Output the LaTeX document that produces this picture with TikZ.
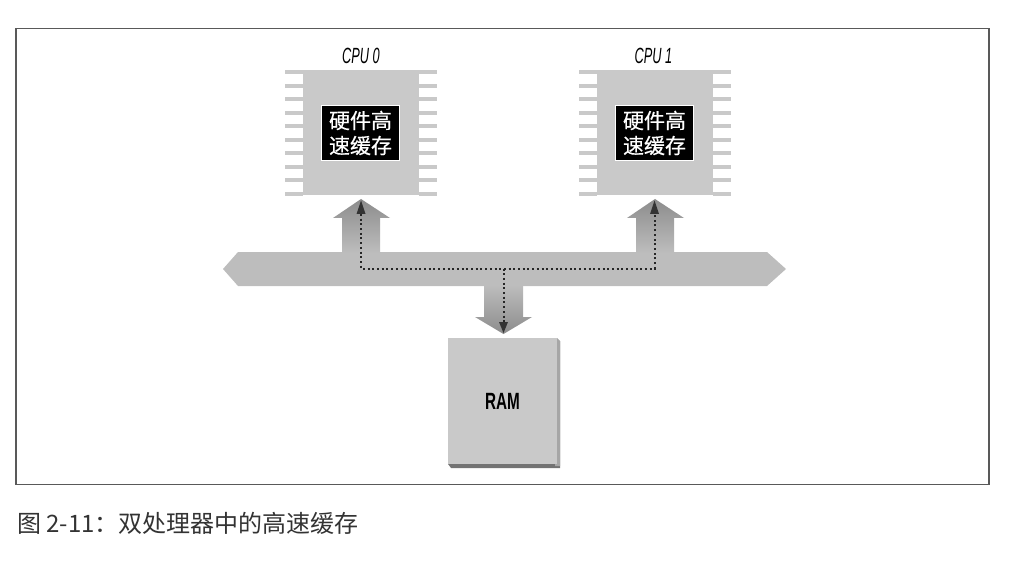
\documentclass[tikz,border=0pt]{standalone}
\usepackage{fontspec}
\setmainfont{Liberation Sans}
\newfontfamily\cjk{Noto Sans CJK SC}
\newfontfamily\cjkheavy[FakeBold=0.4]{Noto Sans CJK SC}
\definecolor{chip}{gray}{0.79}
\definecolor{busgray}{gray}{0.74}
\definecolor{armdark}{gray}{0.55}
\definecolor{frameline}{gray}{0.35}
\tikzset{
  chipbody/.style={fill=chip,draw=none,minimum width=116pt,minimum height=125pt,inner sep=0pt,outer sep=0pt},
  cachebox/.style={fill=black,draw=white,line width=1.6pt,minimum width=78pt,minimum height=55pt,inner sep=0pt,text=white,align=center,font=\cjkheavy\fontsize{21}{26}\selectfont},
  cpulabel/.style={inner sep=0pt,font=\fontsize{22}{22}\selectfont\itshape,xscale=.58},
  pin/.style={fill=chip,draw=none},
  signal/.style={draw=black!85,line width=2pt,dash pattern=on 2pt off 2.7pt},
  signalhead/.style={fill=black!80,draw=none},
}
\newcommand{\pinrow}[1]{%
  \foreach \i in {0,...,9}{
    \fill[pin] (#1-76,70.5+13.45*\i) rectangle (#1-58,74.5+13.45*\i);
    \fill[pin] (#1+58,70.5+13.45*\i) rectangle (#1+76,74.5+13.45*\i);
  }}
\begin{document}
\begin{tikzpicture}[x=1pt,y=-1pt]
\useasboundingbox (0,0) rectangle (1020,564);
% frame
\draw[frameline,line width=1.2pt] (16,28.5) -- (989,28.5) -- (989,484.5) -- (16,484.5) -- cycle;
% CPU chips
\pinrow{361}
\pinrow{655}
\node[chipbody] (cpu0) at (361,132.5) {};
\node[chipbody] (cpu1) at (655,132.5) {};
\node[cachebox] (cache0) at (360.5,133) {硬件高\\[-1pt]速缓存};
\node[cachebox] (cache1) at (654.5,133) {硬件高\\[-1pt]速缓存};
\node[cpulabel] (label0) at (361,56) {CPU 0};
\node[cpulabel] (label1) at (653.5,56) {CPU 1};
% bus and arms
\fill[busgray] (223,269) -- (238,252) -- (767,252) -- (786,269) -- (767,286) -- (238,286) -- cycle;
\shade[top color=armdark,bottom color=busgray]
  (361,199) -- (390,218) -- (380,218) -- (380,252.5) -- (342,252.5) -- (342,218) -- (333,218) -- cycle;
\shade[top color=armdark,bottom color=busgray]
  (655,199) -- (684,218) -- (674,218) -- (674,252.5) -- (636,252.5) -- (636,218) -- (627,218) -- cycle;
\shade[top color=busgray,bottom color=armdark]
  (503.5,334) -- (532,317) -- (523,317) -- (523,285.5) -- (484,285.5) -- (484,317) -- (475,317) -- cycle;
% RAM
\fill[black!55] (451,341) -- (560,341) -- (560,468) -- (451,468) -- (448,464) -- cycle;
\fill[black!35] (555,338) -- (557,338) -- (560,341) -- (560,466) -- (555,466) -- cycle;
\node[fill=chip,draw=none,minimum width=109pt,minimum height=126pt,inner sep=0pt,outer sep=0pt] (ram) at (502.5,401) {};
\node[inner sep=0pt,font=\fontsize{23.5}{24}\selectfont\bfseries,xscale=.65] (ramlabel) at (502.5,401.5) {RAM};
% signal paths
\coordinate (junction) at (503.5,268.5);
\coordinate (left) at (361,268.5);
\coordinate (right) at (654.5,268.5);
\coordinate (tip0) at (361,214);
\coordinate (tip1) at (654.5,214);
\coordinate (tipram) at (503.5,325);
\draw[signal] (tip0) -- (left) -- (right) -- (tip1);
\draw[signal] (junction) -- (tipram);
\fill[signalhead] (361,200.5) -- (365.5,214) -- (356.5,214) -- cycle;
\fill[signalhead] (654.5,200.5) -- (659,214) -- (650,214) -- cycle;
\fill[signalhead] (503.5,333) -- (499,322) -- (508,322) -- cycle;
% caption
\node[anchor=west,inner sep=0pt,text=black!80,font=\cjk\fontsize{24}{28}\selectfont] (caption) at (17,523) {图 2-11：双处理器中的高速缓存};
\end{tikzpicture}
\end{document}
